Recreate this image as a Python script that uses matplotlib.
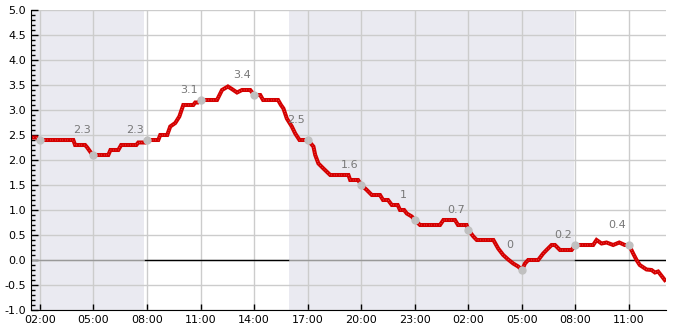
import matplotlib
matplotlib.use("Agg")
import matplotlib.pyplot as plt
from matplotlib.ticker import FixedLocator, MultipleLocator, FuncFormatter

# time in hours since 00:00 of day one, value per reading
times = [1.50, 1.80, 1.95, 3.87, 3.97, 4.53, 4.65, 4.75, 4.95, 5.83, 5.95, 6.39,
         6.55, 7.40, 7.51, 7.90, 8.02, 8.63, 8.74, 9.13, 9.30, 9.58, 9.81, 10.03,
         10.59, 10.70, 10.85, 11.00, 11.92, 12.20, 12.53, 12.75, 13.04, 13.32,
         13.78, 14.00, 14.34, 14.50, 15.34, 15.50, 15.64, 15.83, 16.11, 16.30,
         16.54, 17.00, 17.32, 17.42, 17.60, 17.88, 18.26, 19.28, 19.38, 19.82,
         20.00, 20.31, 20.59, 21.05, 21.22, 21.50, 21.71, 22.04, 22.17, 22.40,
         22.55, 22.83, 23.00, 23.29, 24.41, 24.60, 25.25, 25.42, 25.90, 26.00,
         26.28, 26.47, 27.40, 27.67, 27.95, 28.23, 28.51, 28.79, 29.00, 29.17,
         29.35, 29.91, 30.19, 30.38, 30.66, 30.85, 31.13, 31.78, 32.00, 32.99,
         33.18, 33.46, 33.74, 34.11, 34.45, 34.76, 35.00, 35.23, 35.42, 35.60,
         35.98, 36.26, 36.45, 36.63, 37.00]
values = [2.45, 2.45, 2.40, 2.40, 2.30, 2.30, 2.25, 2.20, 2.10, 2.10, 2.20, 2.20,
          2.30, 2.30, 2.35, 2.35, 2.40, 2.40, 2.50, 2.50, 2.67, 2.74, 2.87, 3.10,
          3.10, 3.15, 3.15, 3.20, 3.20, 3.40, 3.47, 3.42, 3.35, 3.40,
          3.40, 3.30, 3.30, 3.20, 3.20, 3.10, 3.03, 2.83, 2.67, 2.53,
          2.40, 2.40, 2.27, 2.10, 1.93, 1.83, 1.70, 1.70, 1.60, 1.60,
          1.50, 1.40, 1.30, 1.30, 1.20, 1.20, 1.10, 1.10, 1.00, 1.00,
          0.93, 0.87, 0.80, 0.70, 0.70, 0.80, 0.80, 0.70, 0.70, 0.60,
          0.47, 0.40, 0.40, 0.23, 0.10, 0.01, -0.07, -0.13, -0.20, -0.07,
          0.00, 0.00, 0.13, 0.20, 0.30, 0.30, 0.20, 0.20, 0.30, 0.30,
          0.40, 0.33, 0.35, 0.30, 0.35, 0.30, 0.30, 0.13, 0.00, -0.10,
          -0.19, -0.20, -0.25, -0.23, -0.40]

# 3-hourly readings (grey dots)
mark_times = [2, 5, 8, 11, 14, 17, 20, 23, 26, 29, 32, 35]
mark_values = [2.4, 2.1, 2.4, 3.2, 3.3, 2.4, 1.5, 0.8, 0.6, -0.2, 0.3, 0.3]

# labels shown above the curve
label_times = [4.33, 7.33, 10.33, 13.33, 16.33, 19.33, 22.33, 25.33, 28.33, 31.33, 34.33]
label_texts = ["2.3", "2.3", "3.1", "3.4", "2.5", "1.6", "1", "0.7", "0", "0.2", "0.4"]

# night periods (hours)
night_start = [1.5, 15.96]
night_end = [7.85, 31.9]

tick_hours = [2, 5, 8, 11, 14, 17, 20, 23, 26, 29, 32, 35]
x_min, x_max = 1.5, 37.07

fig = plt.figure(figsize=(6.85, 3.3), dpi=100)
ax = fig.add_axes([31 / 685, 20 / 330, 635 / 685, 300 / 330])

for s, e in zip(night_start, night_end):
    ax.axvspan(s, e, color=(225 / 255, 225 / 255, 235 / 255), alpha=0.68, lw=0, zorder=1.5)

# zero line: black by day, grey at night
day_start = night_end
day_end = night_start[1:] + [x_max]
ax.hlines([0] * len(day_start), day_start, day_end, color="black", lw=1, zorder=2.6)
ax.hlines([0] * len(night_start), night_start, night_end, color="#999999", lw=1, zorder=2.6)

ax.plot(times, values, color="#d40000", lw=2.9, zorder=3, solid_joinstyle="miter")
ax.plot(times, values, color="#ff9090", lw=0.6, ls=(0, (0.6, 2.4)), zorder=3.1)
ax.plot(mark_times, mark_values, "o", color="#c0c0c0", ms=6, mec="none", zorder=4)

for t, txt in zip(label_times, label_texts):
    ax.annotate(txt, (t, float(txt)), xytext=(0, 11), textcoords="offset points",
                ha="center", va="center", fontsize=8, color="#777777", zorder=5)

ax.set_xlim(x_min, x_max)
ax.set_ylim(-1.0, 5.0)
ax.xaxis.set_major_locator(FixedLocator(tick_hours))
ax.xaxis.set_major_formatter(FuncFormatter(lambda h, p: f"{int(round(h)) % 24:02d}:00"))
ax.yaxis.set_major_locator(MultipleLocator(0.5))
ax.yaxis.set_minor_locator(MultipleLocator(0.1))
ax.yaxis.set_major_formatter(FuncFormatter(lambda v, p: f"{v:.1f}"))

ax.set_axisbelow(False)
ax.grid(True, which="major", color="#cccccc", lw=1, zorder=2)
for sp in ["top", "right"]:
    ax.spines[sp].set_visible(False)
for sp in ["left", "bottom"]:
    ax.spines[sp].set_color("black")
    ax.spines[sp].set_zorder(6)
ax.tick_params(which="major", direction="in", length=5, width=1, labelsize=8, colors="black")
ax.tick_params(which="minor", direction="in", length=3, width=1)
ax.tick_params(axis="x", length=4)

fig.savefig("out.png", dpi=100)
